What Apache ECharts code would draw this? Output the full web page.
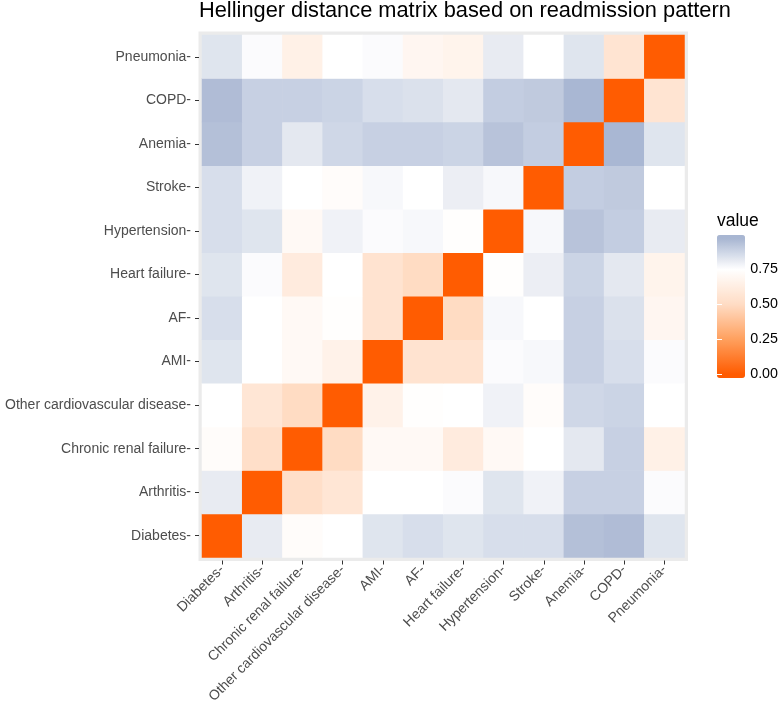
<!DOCTYPE html>
<html><head><meta charset="utf-8">
<script src="https://cdn.jsdelivr.net/npm/echarts@6/dist/echarts.min.js"></script>
<style>html,body{margin:0;padding:0;background:#fff}#c{width:781px;height:714px}</style>
</head><body><div id="c"></div>
<script>
const categories = ['Diabetes','Arthritis','Chronic renal failure','Other cardiovascular disease','AMI','AF','Heart failure','Hypertension','Stroke','Anemia','COPD','Pneumonia'];

// rows follow the category order (bottom to top); columns follow the category order (left to right)
const rowDiabetes     = [0.00, 0.81, 0.73, 0.75, 0.83, 0.85, 0.83, 0.85, 0.85, 0.94, 0.95, 0.83];
const rowArthritis    = [0.81, 0.00, 0.52, 0.57, 0.75, 0.75, 0.76, 0.83, 0.79, 0.89, 0.89, 0.76];
const rowRenal        = [0.73, 0.52, 0.00, 0.50, 0.71, 0.71, 0.61, 0.71, 0.75, 0.82, 0.89, 0.65];
const rowOtherCardio  = [0.75, 0.57, 0.50, 0.00, 0.66, 0.74, 0.75, 0.79, 0.73, 0.87, 0.88, 0.75];
const rowAMI          = [0.83, 0.75, 0.71, 0.66, 0.00, 0.55, 0.55, 0.76, 0.77, 0.89, 0.85, 0.76];
const rowAF           = [0.85, 0.75, 0.71, 0.74, 0.55, 0.00, 0.50, 0.77, 0.75, 0.89, 0.84, 0.69];
const rowHeartFailure = [0.83, 0.76, 0.61, 0.75, 0.55, 0.50, 0.00, 0.74, 0.80, 0.88, 0.82, 0.67];
const rowHypertension = [0.85, 0.83, 0.71, 0.79, 0.76, 0.77, 0.74, 0.00, 0.77, 0.93, 0.90, 0.81];
const rowStroke       = [0.85, 0.79, 0.75, 0.73, 0.77, 0.75, 0.80, 0.77, 0.00, 0.90, 0.91, 0.75];
const rowAnemia       = [0.94, 0.89, 0.82, 0.87, 0.89, 0.89, 0.88, 0.93, 0.90, 0.00, 0.97, 0.83];
const rowCOPD         = [0.95, 0.89, 0.89, 0.88, 0.85, 0.84, 0.82, 0.90, 0.91, 0.97, 0.00, 0.56];
const rowPneumonia    = [0.83, 0.76, 0.65, 0.75, 0.76, 0.69, 0.67, 0.81, 0.75, 0.83, 0.56, 0.00];

const legendTicks = [0, 0.25, 0.5, 0.75];

const rows = [rowDiabetes, rowArthritis, rowRenal, rowOtherCardio, rowAMI, rowAF,
              rowHeartFailure, rowHypertension, rowStroke, rowAnemia, rowCOPD, rowPneumonia];
const data = [];
rows.forEach((r, i) => r.forEach((v, j) => data.push([j, i, v])));

// colour scale (orange -> white -> slate blue)
const stops = [[0,[255,91,0]],[0.25,[255,160,94]],[0.5,[255,220,196]],[0.75,[255,255,255]],[0.97,[168,182,210]]];
function colorAt(v){
  if (v <= stops[0][0]) return 'rgb(' + stops[0][1].join(',') + ')';
  for (let k = 1; k < stops.length; k++){
    if (v <= stops[k][0]){
      const a = stops[k-1], b = stops[k];
      const t = (v - a[0]) / (b[0] - a[0]);
      const c = a[1].map((x, n) => Math.round(x + (b[1][n] - x) * t));
      return 'rgb(' + c.join(',') + ')';
    }
  }
  return 'rgb(' + stops[stops.length-1][1].join(',') + ')';
}
const vmMin = -0.0257, vmMax = 0.9957;
const colors = [];
for (let k = 0; k <= 100; k++) colors.push(colorAt(vmMin + (vmMax - vmMin) * k / 100));

const FONT = '"Liberation Sans", Arial, sans-serif';
const chart = echarts.init(document.getElementById('c'), null, {renderer: 'canvas'});
chart.setOption({
  animation: false,
  textStyle: {fontFamily: FONT},
  title: [
    {text: 'Hellinger distance matrix based on readmission pattern', left: 199, top: 0, padding: 0,
     textStyle: {fontFamily: FONT, fontSize: 21.8, fontWeight: 'normal', color: '#000'}},
    {text: 'value', left: 717, top: 212, padding: 0,
     textStyle: {fontFamily: FONT, fontSize: 17.5, fontWeight: 'normal', color: '#000'}}
  ],
  grid: [
    {left: 202, top: 35, width: 482.5, height: 522.5, show: true, backgroundColor: '#EBEBEB', borderColor: '#EBEBEB', borderWidth: 7},
    {left: 717, top: 235, width: 28, height: 143, show: false}
  ],
  xAxis: [
    {type: 'category', data: categories, gridIndex: 0, offset: 3,
     axisLine: {show: false},
     axisTick: {show: true, alignWithLabel: true, length: 4, lineStyle: {color: '#333333', width: 1}},
     axisLabel: {rotate: 45, margin: 7, fontSize: 14, color: '#4D4D4D', fontFamily: FONT, interval: 0, formatter: v => v + '-'},
     splitLine: {show: false}},
    {type: 'value', gridIndex: 1, show: false, min: 0, max: 1}
  ],
  yAxis: [
    {type: 'category', data: categories, gridIndex: 0, offset: 3,
     axisLine: {show: false},
     axisTick: {show: true, alignWithLabel: true, length: 4, lineStyle: {color: '#333333', width: 1}},
     axisLabel: {margin: 8, fontSize: 14, color: '#4D4D4D', fontFamily: FONT, interval: 0, formatter: v => v + '-'},
     splitLine: {show: false}},
    {type: 'value', gridIndex: 1, min: vmMin, max: vmMax, position: 'right', z: 10,
     axisLine: {show: false},
     axisTick: {show: true, inside: true, length: 5, lineStyle: {color: '#ffffff', width: 1}, customValues: legendTicks},
     axisLabel: {show: true, customValues: legendTicks, margin: 7, fontSize: 14.3, color: '#000', fontFamily: FONT, formatter: v => v.toFixed(2)},
     splitLine: {show: false}},
    {type: 'value', gridIndex: 1, min: vmMin, max: vmMax, position: 'left', z: 10,
     axisLine: {show: false},
     axisTick: {show: true, inside: true, length: 5, lineStyle: {color: '#ffffff', width: 1}, customValues: legendTicks},
     axisLabel: {show: false},
     splitLine: {show: false}}
  ],
  visualMap: {
    type: 'continuous', min: vmMin, max: vmMax, seriesIndex: 0, dimension: 2,
    left: 717, top: 235, itemWidth: 28, itemHeight: 143, padding: 0,
    calculable: false, text: null, hoverLink: false, showLabel: false,
    inRange: {color: colors}
  },
  series: [{
    type: 'heatmap', xAxisIndex: 0, yAxisIndex: 0, data: data,
    itemStyle: {borderWidth: 0}, emphasis: {disabled: true}
  }]
});
</script>
</body></html>
